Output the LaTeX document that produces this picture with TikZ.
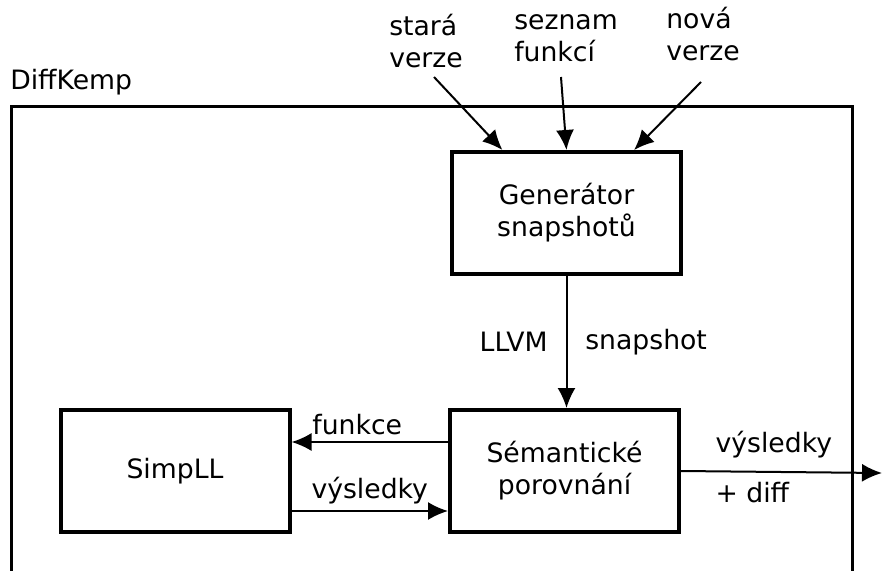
\documentclass[tikz,border=0pt]{standalone}
\usepackage{fontspec}
\setmainfont{DejaVu Sans}
\usetikzlibrary{arrows.meta, calc}

\begin{document}
\begin{tikzpicture}[x=0.75pt, y=-0.75pt,
        font=\fontsize{20}{24}\selectfont,
        blok/.style={draw, line width=3pt, minimum width=171.75pt, minimum height=91.5pt, align=center},
        sipka/.style={line width=1.5pt, -{Latex[length=15pt, width=13.5pt]}},
        popis/.style={align=left, inner sep=0pt}]
                \useasboundingbox (0,0) rectangle (882,571);

                % Frame:
                \node[anchor=west, inner sep=0pt] (nazev) at (10,82) {DiffKemp};
                \draw[line width=2.25pt] (11,575) -- (11,106) -- (852,106) -- (852,575);

                % Boxes:
                \node[blok] (gen) at (566.5,213) {Generátor\\snapshotů};
                \node[blok] (simpll) at (175,471) {SimpLL};
                \node[blok] (sem) at (564.5,471) {Sémantické\\porovnání};

                % Inputs:
                \node[popis, anchor=north west] (stara) at (389,14) {stará\\verze};
                \node[popis, anchor=north west] (seznam) at (514,14) {seznam\\funkcí};
                \node[popis, anchor=north west] (nova) at (666,7) {nová\\verze};
                \coordinate (staraIn) at (434,77);
                \coordinate (seznamIn) at (561,77);
                \coordinate (novaIn) at (701,82);
                \coordinate (vystup) at (882,473);

                \draw[sipka] (staraIn) -- ($(gen.north)!0.55!(gen.north west)$);
                \draw[sipka] (seznamIn) -- (gen.north);
                \draw[sipka] (novaIn) -- ($(gen.north)!0.58!(gen.north east)$);

                % Connections:
                \draw[sipka] (gen.south) -- (gen.south |- sem.north)
                        node [midway, left=10pt] {LLVM}
                        node [midway, right=10pt] {snapshot};
                \draw[sipka] ([yshift=21.75pt]sem.west) -- ([yshift=21.75pt]simpll.east)
                        node [pos=0.58, above=1pt] {funkce};
                \draw[sipka] ([yshift=-30pt]simpll.east) -- ([yshift=-30pt]sem.west)
                        node [pos=0.5, above=1pt] {výsledky};
                \draw[sipka] (sem.east) -- (vystup)
                        node [pos=0.145, anchor=south west, yshift=6pt] {výsledky}
                        node [pos=0.145, anchor=north west, yshift=-4pt] {+ diff};
            \end{tikzpicture}
\end{document}
